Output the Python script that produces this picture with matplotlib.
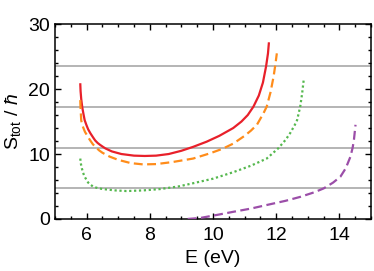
import numpy as np
import matplotlib
matplotlib.use('Agg')
import matplotlib.pyplot as plt
from matplotlib.ticker import MultipleLocator

plt.rcParams['font.family'] = ['Liberation Sans', 'DejaVu Sans']
plt.rcParams['mathtext.fontset'] = 'custom'
plt.rcParams['mathtext.rm'] = 'Liberation Sans'
plt.rcParams['mathtext.it'] = 'Liberation Sans:italic'

# curve data
red_x = [5.80, 5.81, 5.83, 5.85, 5.87, 5.90, 5.94, 6.0, 6.05, 6.12, 6.2, 6.27, 6.35, 6.43, 6.52,
         6.6, 6.8, 7.1, 7.5, 7.84, 8.2, 8.6, 9.0, 9.37, 9.8, 10.2, 10.64, 10.9, 11.1, 11.28,
         11.45, 11.58, 11.68, 11.74, 11.77]
red_y = [20.9, 19.7, 18.5, 17.7, 17.0, 16.2, 15.2, 14.4, 13.8, 13.2, 12.6, 12.1, 11.7, 11.4, 11.1,
         10.85, 10.4, 10.0, 9.75, 9.7, 9.75, 10.0, 10.5, 11.1, 11.9, 12.8, 14.0, 15.0, 16.0, 17.3,
         19.0, 21.0, 23.5, 25.5, 27.2]

orange_x = [5.80, 5.81, 5.83, 5.86, 5.9, 5.95, 6.0, 6.1, 6.2, 6.3, 6.4, 6.5, 6.73, 7.0, 7.4,
            7.79, 8.2, 8.7, 9.37, 9.9, 10.3, 10.64, 11.0, 11.2, 11.39, 11.6, 11.7, 11.82,
            11.92, 11.98, 12.02]
orange_y = [18.3, 17.0, 15.2, 14.5, 14.0, 13.4, 13.0, 12.2, 11.5, 11.0, 10.55, 10.2, 9.6, 9.1, 8.6,
            8.4, 8.45, 8.75, 9.3, 10.1, 10.8, 11.6, 12.8, 13.6, 14.5, 16.3, 17.3, 19.5,
            22.0, 24.0, 25.5]

green_x = [5.80, 5.82, 5.85, 5.89, 5.94, 6.0, 6.05, 6.12, 6.2, 6.35, 6.52, 6.9, 7.26, 7.8, 8.32,
           8.9, 9.37, 10.0, 10.64, 11.2, 11.7, 12.07, 12.3, 12.44, 12.58, 12.66, 12.76, 12.82, 12.87]
green_y = [9.3, 8.5, 7.8, 7.1, 6.5, 6.0, 5.6, 5.3, 5.0, 4.75, 4.6, 4.4, 4.3, 4.4, 4.6,
           5.0, 5.5, 6.2, 7.2, 8.2, 9.3, 10.9, 12.2, 13.2, 14.4, 15.2, 17.3, 19.3, 21.4]

purple_x = [9.2, 9.59, 10.1, 10.64, 11.2, 11.7, 12.3, 12.76, 13.2, 13.5, 13.8, 14.03,
            14.2, 14.35, 14.42, 14.46, 14.51]
purple_y = [0.0, 0.15, 0.6, 1.1, 1.6, 2.15, 2.8, 3.4, 4.1, 4.7, 5.6, 6.5,
            7.8, 9.6, 11.0, 12.2, 14.5]

# horizontal reference levels
levels = [4.71, 11.0, 17.28, 23.56]

fig = plt.figure(figsize=(3.74, 2.71), dpi=100)
ax = fig.add_axes([0.147, 0.192, 0.845, 0.719])

for lv in levels:
    ax.axhline(lv, color='#a0a0a0', lw=1.1, zorder=1)

ax.plot(red_x, red_y, color='#e8202a', lw=1.6, solid_capstyle='butt', zorder=3)
ax.plot(orange_x, orange_y, color='#ff8c1a', lw=1.6, dashes=(4, 2), zorder=3)
ax.plot(green_x, green_y, color='#55b84e', lw=1.6, linestyle=(0, (1, 1.2)), zorder=3)
ax.plot(purple_x, purple_y, color='#9b4ea8', lw=1.6, dashes=(4, 2), zorder=3)

ax.set_xlim(5, 15)
ax.set_ylim(0, 30)
ax.xaxis.set_major_locator(MultipleLocator(2))
ax.xaxis.set_minor_locator(MultipleLocator(0.5))
ax.yaxis.set_major_locator(MultipleLocator(10))
ax.yaxis.set_minor_locator(MultipleLocator(2))
ax.tick_params(which='both', direction='in', top=True, right=True, width=1.0, labelsize=14)
ax.tick_params(which='major', length=4)
ax.tick_params(which='minor', length=2)
ax.tick_params(axis='x', pad=6)
for s in ax.spines.values():
    s.set_linewidth(1.1)

ax.set_xlabel('E (eV)', fontsize=14, labelpad=4)
ax.set_ylabel(r'S$_{\mathrm{tot}}$ / $\mathit{\hbar}$', fontsize=14, labelpad=4)

fig.savefig('out.png', dpi=100)
